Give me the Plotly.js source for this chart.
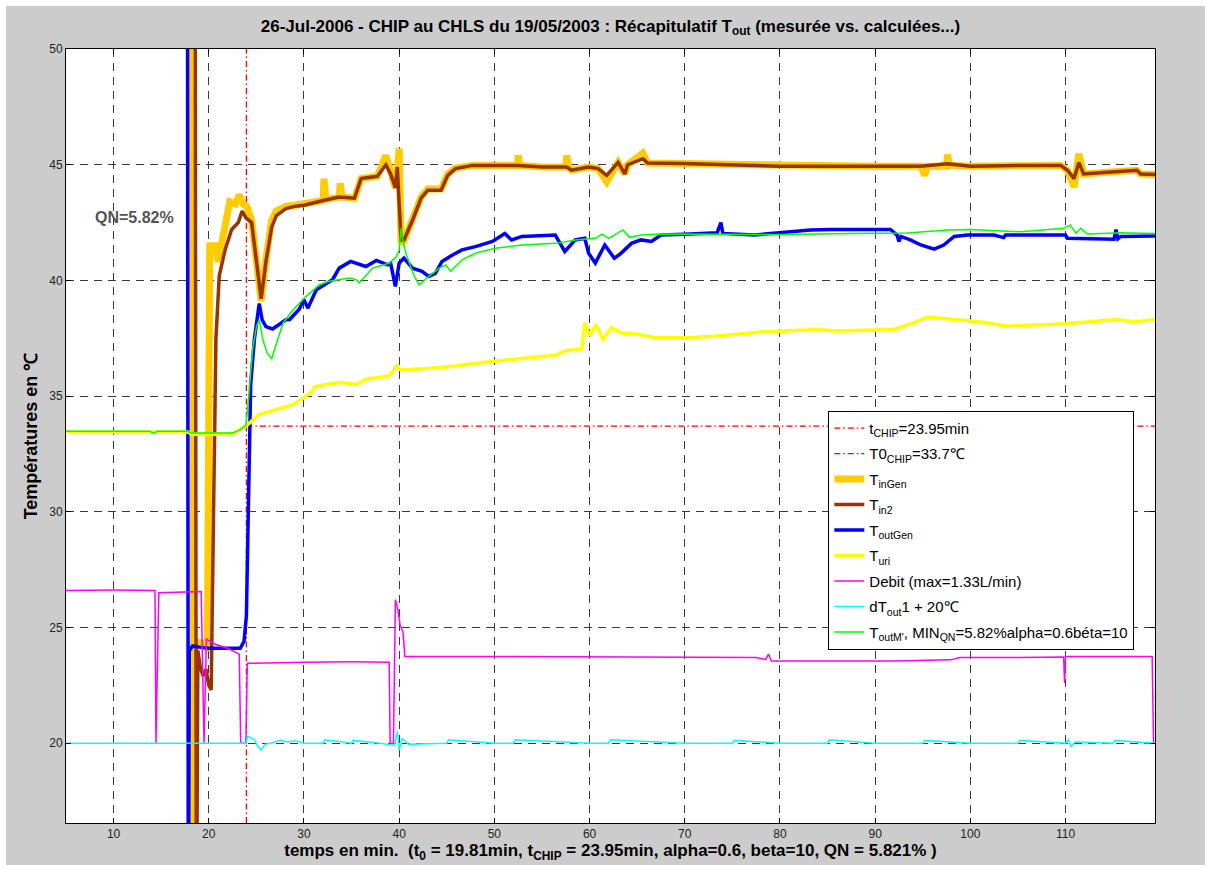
<!DOCTYPE html>
<html>
<head>
<meta charset="utf-8">
<script src="https://cdn.plot.ly/plotly-3.0.1.min.js"></script>
<style>
html,body{margin:0;padding:0;background:#ffffff;}
#chart{position:absolute;left:6px;top:6px;width:1199px;height:859px;}
</style>
</head>
<body>
<div id="chart"></div>
<script>
// ---- axis ranges & ticks ----
const X_RANGE = [5, 119.4];
const Y_RANGE = [16.55, 50];
const X_TICKS = [10, 20, 30, 40, 50, 60, 70, 80, 90, 100, 110];
const Y_TICKS = [20, 25, 30, 35, 40, 45, 50];

// ---- reference values ----
const tChip = 23.95;
const T0chip = 33.7;

// ---- T_inGen ----
const inGenX = [18.25,18.4,18.6,19.6,19.85,20.1,20.7,21.0,21.4,21.8,22.2,22.8,23.2,23.6,24.0,24.5,25.0,25.5,26.0,26.6,27.1,28.1,29.0,30,32,32.1,32.3,33.7,33.8,34.0,35.3,36.0,37.7,38.6,39.1,39.6,40.0,40.2,40.5,41.4,42.3,43.0,44.4,45.1,45.9,47.7,52.4,52.5,52.7,55.0,57.5,57.6,57.8,58.1,59.9,60.9,61.8,63.0,63.7,64.0,65.6,66.1,69.8,73.8,80,90,94.8,95.2,95.5,97.5,97.6,97.8,100,105.3,109.5,110.2,110.9,111.4,111.9,114.0,115.8,117.5,117.9,119.5];
const inGenY = [60,10,24.4,24.3,24.0,41.5,41.5,40.8,41.7,42.8,43.4,43.3,43.7,43.3,43.2,42.6,40.8,39.1,40.9,42.6,43.0,43.2,43.25,43.3,43.45,44.4,43.5,43.6,44.2,43.6,43.55,44.4,44.5,45.4,44.6,44.0,45.7,41.6,41.7,42.7,43.6,43.95,43.95,44.6,44.85,44.97,44.97,45.4,44.97,44.9,44.9,45.4,44.9,44.76,44.9,44.83,44.26,45.1,44.6,45.0,45.5,45.07,45.05,45.0,44.93,44.93,44.93,44.54,44.93,44.93,45.44,44.98,44.93,44.97,44.97,44.76,44.04,45.47,44.6,44.66,44.7,44.76,44.6,44.58];

// ---- T_in2 ----
const in2X = [18.55,18.7,18.85,19.1,19.4,19.7,20.0,20.25,20.5,20.75,21.1,21.7,22.4,23.1,23.5,23.9,24.5,25.0,25.5,26.0,26.6,27.1,28.1,29.0,30,32,33.7,35.3,36.0,37.7,38.6,39.1,39.6,39.8,40.2,40.5,41.4,42.3,43.0,44.4,45.1,45.9,47.7,52.5,55.0,57.6,58.1,59.9,60.9,61.8,63.0,63.7,64.0,65.6,66.1,69.8,73.8,80,90,94.8,97.6,100,105.3,109.5,110.2,110.9,111.4,111.9,114.0,115.8,117.5,117.9,119.5];
const in2Y = [60,10,24.0,23.3,22.9,23.2,22.5,22.3,30,37.5,40.2,41.3,42.2,42.5,43.0,42.7,42.5,40.8,39.2,40.8,42.3,42.8,43.1,43.2,43.25,43.45,43.6,43.55,44.4,44.5,45.0,44.6,44.0,44.9,41.75,41.75,42.6,43.55,43.9,43.9,44.54,44.83,44.97,44.97,44.9,44.9,44.76,44.9,44.83,44.54,45.1,44.6,45.0,45.26,45.07,45.05,45.0,44.93,44.93,44.93,45.04,44.93,44.97,44.97,44.76,44.4,45.1,44.6,44.66,44.7,44.76,44.6,44.58];

// ---- T_outGen ----
const outGenX = [17.75,17.85,17.95,18.3,19.0,20.0,23.3,23.7,23.95,24.1,24.4,24.8,25.1,25.3,25.6,26.0,26.7,27.4,28.1,28.5,29.5,30.0,30.4,31.3,33.0,33.7,34.9,36.5,37.6,38.8,39.1,39.6,40.0,40.5,41.4,42.4,43.1,43.8,44.5,45.6,46.6,48.0,49.8,51.1,51.8,52.9,55.0,56.4,57.4,58.5,59.5,59.9,60.6,61.6,62.6,63.3,64.4,65.4,66.5,67.5,70.0,73.4,73.8,74.0,77.3,80,83.2,85.3,91.6,92.3,92.5,92.7,93.7,94.8,96.2,97.2,98.3,99.7,102.5,103.5,103.7,110.0,110.2,115.1,115.3,115.5,115.8,119.5];
const outGenY = [60,10,24.0,24.2,24.15,24.1,24.1,24.4,25.5,29,35.5,37.5,38.3,39.0,38.3,38.0,37.9,38.1,38.3,38.31,38.75,39.17,38.8,39.6,40.03,40.53,40.82,40.6,40.86,40.67,40.75,39.74,40.75,40.96,40.53,40.39,40.17,40.3,40.82,41.1,41.32,41.46,41.68,42.03,41.75,41.9,41.92,41.96,41.25,41.75,41.82,41.17,40.75,41.53,40.96,41.17,41.6,41.75,41.68,41.96,41.99,42.06,42.5,42.03,41.96,42.06,42.18,42.2,42.2,41.96,41.68,41.9,41.75,41.53,41.35,41.53,41.9,41.96,41.96,41.85,41.96,41.96,41.82,41.78,42.2,41.8,41.9,41.92];

// ---- T_uri ----
const uriX = [5,17.8,18.2,22.5,23.0,23.9,25.3,27.1,28.8,29.9,30.9,31.1,33.7,35.5,36.5,39.0,39.7,40.2,43.1,45.9,49.4,52.9,56.4,57.4,59.2,59.5,60.0,60.7,61.4,62.3,63.3,65.1,66.8,70.3,73.4,78.0,83.9,86.0,92.0,94.1,95.5,98.3,101.1,103.9,108.8,112.3,115.4,117.2,119.5];
const uriY = [33.45,33.45,33.35,33.35,33.5,33.7,34.2,34.4,34.62,34.9,35.2,35.4,35.6,35.5,35.73,35.87,36.3,36.13,36.19,36.3,36.48,36.62,36.76,36.95,37.05,38.17,37.6,38.1,37.45,37.95,37.74,37.67,37.52,37.52,37.6,37.77,37.88,37.81,37.88,38.17,38.42,38.31,38.2,38.02,38.1,38.2,38.31,38.2,38.31];

// ---- Debit ----
const debitX = [5,10,14.35,14.45,14.75,17,19.2,19.5,19.75,20.8,22.0,23.2,23.35,23.9,24.05,30,35,38.95,39.05,39.4,39.6,39.8,40.1,40.4,40.6,50,60,70,77.5,78.5,78.8,79.1,88,92,97.9,98.9,105,109.8,109.9,110.0,115,119.1,119.25];
const debitY = [26.6,26.62,26.6,20,26.5,26.52,26.55,20.0,24.5,24.25,24.1,23.85,20,20,23.45,23.5,23.52,23.5,20,20,26.2,25.9,25.1,24.8,23.75,23.75,23.72,23.72,23.7,23.62,23.85,23.55,23.55,23.55,23.6,23.7,23.7,23.72,22.6,23.75,23.75,23.75,20];

// ---- dT_out 1 + 20 ----
const dToutX = [5,23.95,24.05,24.4,24.8,25.1,25.5,25.9,26.5,27.5,28.3,29,30,32,32.2,35,35.2,38,39.5,39.8,40.0,40.3,41,45,45.2,50,52,52.2,60,62,62.2,70,75,75.2,80,85,85.2,90,95,95.2,100,105,105.2,110,110.3,110.6,111,115,115.2,119.3];
const dToutY = [20,20,20.3,20.25,20.15,19.9,19.7,19.95,20.0,20.12,20.05,20.1,20.0,20.0,20.15,20.0,20.12,20.0,19.9,20.5,19.7,20.2,19.95,20.0,20.15,20.0,20.0,20.15,20.0,20.0,20.15,20.0,20.0,20.12,20.0,20.0,20.15,20.0,20.0,20.12,20.0,20.0,20.12,20.0,20.15,19.85,20.05,20.0,20.12,20.0];

// ---- T_outM ----
const outMX = [5,13.8,14.2,14.6,17.8,18.1,22.5,23.3,23.9,24.2,24.6,25.0,25.3,25.7,26.1,26.6,27.2,27.8,28.8,30.2,31.6,32.5,34.8,35.5,35.8,37.2,39.0,39.7,40.0,40.2,40.4,40.7,41.6,42.1,43.1,44.2,44.9,45.4,46.6,48.0,50.1,52.9,56.4,58.5,60.6,61.3,62.0,63.5,64.2,65.4,67.5,73.4,80,87.8,93.4,97.6,100,105.3,109.8,110.5,111.1,111.6,112.3,115.8,119.5];
const outMY = [33.48,33.48,33.4,33.48,33.48,33.4,33.4,33.55,33.75,35.0,37.0,38.0,38.3,37.4,36.9,36.6,37.4,38.15,38.7,39.3,39.8,39.95,40.1,40.03,39.89,40.53,40.75,41.03,41.3,42.25,41.7,41.17,40.17,39.81,40.17,40.53,40.67,40.39,40.89,41.17,41.39,41.53,41.6,41.75,41.82,42.0,41.82,42.18,41.86,41.96,42.0,41.99,41.98,42.03,42.05,42.18,42.2,42.1,42.25,42.4,42.03,42.25,42.0,42.06,42.03];

// ---- labels ----
const NAMES = [
  't<sub>CHIP</sub>=23.95min',
  'T0<sub>CHIP</sub>=33.7\u2103',
  'T<sub>inGen</sub>',
  'T<sub>in2</sub>',
  'T<sub>outGen</sub>',
  'T<sub>uri</sub>',
  'Debit (max=1.33L/min)',
  'dT<sub>out</sub>1 + 20\u2103',
  "T<sub>outM'</sub>, MIN<sub>QN</sub>=5.82%alpha=0.6b\u00e9ta=10"
];
const TITLE = '26-Jul-2006 - CHIP au CHLS du 19/05/2003 : R\u00e9capitulatif T<sub>out</sub> (mesur\u00e9e vs. calcul\u00e9es...)';
const XTITLE = 'temps en min.\u00a0\u00a0(t<sub>0</sub> = 19.81min, t<sub>CHIP</sub> = 23.95min, alpha=0.6, beta=10, QN = 5.821% )';
const YTITLE = 'Temp\u00e9ratures en \u2103';
const QN_LABEL = 'QN=5.82%';
const QN_POS = [12.2, 42.7];

const FONT = 'Liberation Sans, Arial, Helvetica, sans-serif';
const redDash = '6px,3px,1.5px,3px';

function ln(x, y, name, color, width, dash, grp) {
  return {type:'scatter', mode:'lines', x:x, y:y, name:name, legendgroup:grp,
          line:{color:color, width:width, dash:dash||'solid'}, hoverinfo:'skip'};
}

const traces = [
  ln([tChip, tChip], [Y_RANGE[0], Y_RANGE[1]], NAMES[0], '#ff0000', 1.3, redDash, 'g0'),
  ln([tChip, X_RANGE[1]], [T0chip, T0chip], NAMES[1], '#ff0000', 1.3, redDash, 'g1'),
  ln(inGenX, inGenY, NAMES[2], '#ffcc00', 7, null, 'g2'),
  ln(in2X, in2Y, NAMES[3], '#993300', 3.5, null, 'g3'),
  ln(outGenX, outGenY, NAMES[4], '#0000ff', 3.5, null, 'g4'),
  ln(uriX, uriY, NAMES[5], '#ffff00', 3.5, null, 'g5'),
  ln(debitX, debitY, NAMES[6], '#ff00ff', 1.5, null, 'g6'),
  ln(dToutX, dToutY, NAMES[7], '#00ffff', 1.5, null, 'g7'),
  ln(outMX, outMY, NAMES[8], '#00ff00', 1.5, null, 'g8')
];

const axisCommon = {
  showline:true, linecolor:'#000', linewidth:1, mirror:'ticks',
  ticks:'inside', ticklen:5, tickcolor:'#000', tickwidth:1,
  showgrid:true, gridcolor:'#3a3a3a', gridwidth:1, griddash:'8px,6px',
  zeroline:false, tickfont:{family:FONT, size:12, color:'#222'}
};

const layout = {
  width:1199, height:859,
  paper_bgcolor:'#cccccc', plot_bgcolor:'#ffffff',
  margin:{l:60, r:50, t:43, b:42},
  font:{family:FONT, color:'#000'},
  title:{text:TITLE, font:{family:FONT, size:17, color:'#000', weight:'bold'},
         x:0.5, xref:'paper', y:0.977, yref:'container', yanchor:'middle'},
  xaxis:Object.assign({}, axisCommon, {range:X_RANGE, tickvals:X_TICKS,
         title:{text:XTITLE, font:{family:FONT, size:17, color:'#000', weight:'bold'}, standoff:2}}),
  yaxis:Object.assign({}, axisCommon, {range:Y_RANGE, tickvals:Y_TICKS,
         title:{text:YTITLE, font:{family:FONT, size:18, color:'#000', weight:'bold'}, standoff:6}}),
  showlegend:true,
  legend:{x:0.70, y:0.5325, xanchor:'left', yanchor:'top', traceorder:'grouped',
          bgcolor:'#ffffff', bordercolor:'#000', borderwidth:1,
          font:{family:FONT, size:15, color:'#000'}, tracegroupgap:3},
  annotations:[{x:QN_POS[0], y:QN_POS[1], xref:'x', yref:'y', text:QN_LABEL, showarrow:false,
    font:{family:FONT, size:16, color:'#555555', weight:'bold'}}],
  hovermode:false
};

Plotly.newPlot('chart', traces, layout, {staticPlot:true, displayModeBar:false});
</script>
</body>
</html>
